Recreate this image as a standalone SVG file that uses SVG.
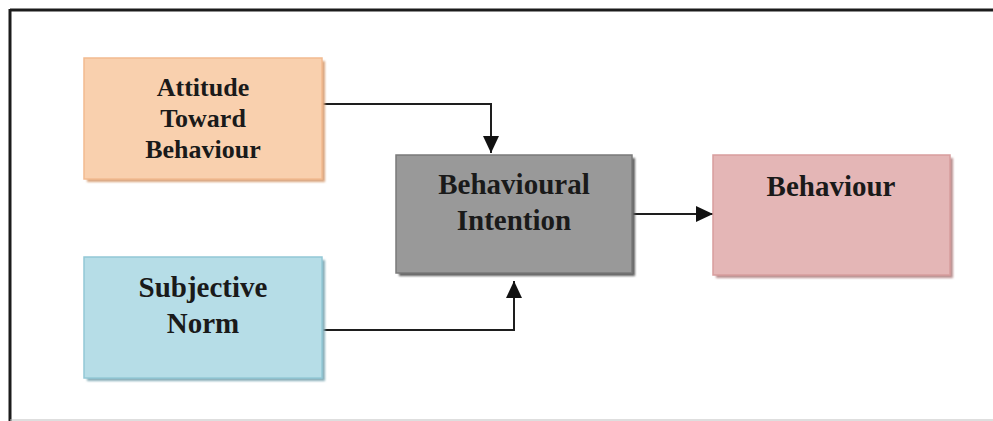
<svg xmlns="http://www.w3.org/2000/svg" width="993" height="421" viewBox="0 0 993 421">
  <style>
    .label { font-family: "Liberation Serif", "Times New Roman", serif; font-weight: bold; fill: #1a1a1a; text-anchor: middle; }
    .wire { fill: none; stroke: #1e1e1e; stroke-width: 2; }
    .box { stroke-width: 1.5; }
  </style>
  <defs>
    <marker id="head" viewBox="0 0 10 10" refX="10" refY="5" markerWidth="17" markerHeight="16" markerUnits="userSpaceOnUse" orient="auto" preserveAspectRatio="none">
      <path d="M0,0 L10,5 L0,10 Z" fill="#111"/>
    </marker>
    <filter id="soft" x="-5%" y="-5%" width="110%" height="110%">
      <feGaussianBlur stdDeviation="1"/>
    </filter>
  </defs>

  <rect width="993" height="421" fill="#ffffff"/>

  <!-- outer frame -->
  <g id="frame">
    <line x1="10" y1="10" x2="993" y2="10" stroke="#1c1c1c" stroke-width="3"/>
    <line x1="10" y1="9" x2="10" y2="421" stroke="#1c1c1c" stroke-width="3"/>
    <line x1="10" y1="420" x2="993" y2="420" stroke="#bdbdbd" stroke-width="1"/>
  </g>

  <!-- connectors -->
  <g id="connectors">
    <polyline class="wire" points="322,104 491,104 491,153" marker-end="url(#head)"/>
    <polyline class="wire" points="322,330 514,330 514,281" marker-end="url(#head)"/>
    <line class="wire" x1="632" y1="214" x2="713" y2="214" marker-end="url(#head)"/>
  </g>

  <g id="attitude">
    <rect x="87" y="61" width="238" height="121" fill="#d9a57e" filter="url(#soft)"/>
    <rect class="box" x="84" y="58" width="238" height="121" fill="#f9d0ae" stroke="#f2bb90"/>
    <text class="label" font-size="26" x="203" y="96">Attitude</text>
    <text class="label" font-size="26" x="203" y="127">Toward</text>
    <text class="label" font-size="26" x="203" y="158">Behaviour</text>
  </g>

  <g id="intention">
    <rect x="399" y="158" width="236" height="118" fill="#5e5e5e" filter="url(#soft)"/>
    <rect class="box" x="396" y="155" width="236" height="118" fill="#999999" stroke="#7a7a7a"/>
    <text class="label" font-size="29" x="514" y="194">Behavioural</text>
    <text class="label" font-size="29" x="514" y="230">Intention</text>
  </g>

  <g id="behaviour">
    <rect x="716" y="158" width="237" height="120" fill="#b98f8f" filter="url(#soft)"/>
    <rect class="box" x="713" y="155" width="237" height="120" fill="#e4b6b6" stroke="#d79d9d"/>
    <text class="label" font-size="29" x="831" y="196">Behaviour</text>
  </g>

  <g id="norm">
    <rect x="87" y="260" width="238" height="121" fill="#86adb8" filter="url(#soft)"/>
    <rect class="box" x="84" y="257" width="238" height="121" fill="#b6dde7" stroke="#93c8d6"/>
    <text class="label" font-size="29" x="203" y="297">Subjective</text>
    <text class="label" font-size="29" x="203" y="333">Norm</text>
  </g>
</svg>
